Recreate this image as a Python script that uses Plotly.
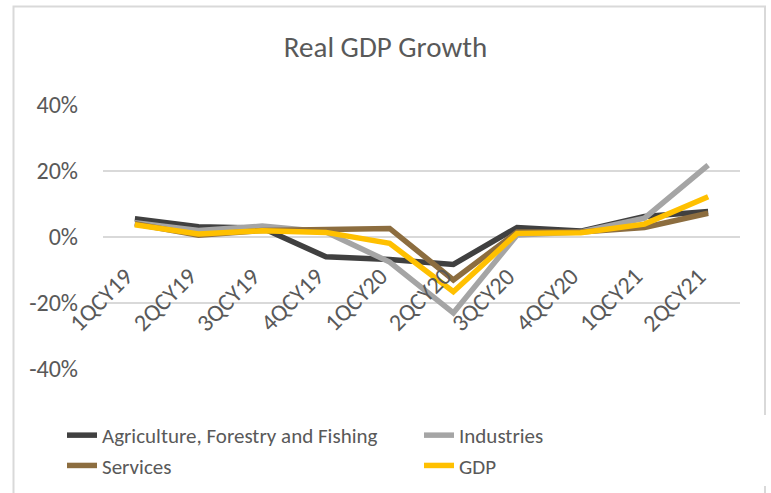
import plotly.graph_objects as go

categories = ["1QCY19", "2QCY19", "3QCY19", "4QCY19", "1QCY20",
              "2QCY20", "3QCY20", "4QCY20", "1QCY21", "2QCY21"]
agriculture = [5.5, 3.1, 2.7, -6.0, -6.8, -8.3, 2.9, 1.8, 6.2, 7.7]
industries = [4.3, 2.0, 3.3, 1.5, -7.6, -23.0, 0.6, 1.5, 5.7, 21.8]
services = [4.0, 0.5, 2.0, 2.5, 2.6, -13.0, 1.5, 1.5, 2.9, 7.2]
gdp = [3.7, 0.9, 1.9, 1.4, -1.9, -16.6, 1.1, 1.3, 3.9, 12.2]

series_names = ["Agriculture, Forestry and Fishing", "Industries", "Services", "GDP"]
series_values = [agriculture, industries, services, gdp]
series_colors = ["#404040", "#A5A5A5", "#8C6D3F", "#FFC000"]
y_ticks = [-40, -20, 0, 20, 40]
y_tick_labels = ["-40%", "-20%", "0%", "20%", "40%"]

FONT = "Carlito, 'Liberation Sans Narrow', 'Open Sans', sans-serif"
TXT = "#595959"

fig = go.Figure()
for name, vals, col in zip(series_names, series_values, series_colors):
    fig.add_trace(go.Scatter(x=categories, y=vals, mode="lines", name=name,
                             line=dict(color=col, width=5.5)))

W, H = 771, 493
L, R, T, B = 103, 31, 105, 124
pw, ph = W - L - R, H - T - B

def px_x(p):
    return (p - L) / pw

def px_y(p):
    return (H - B - p) / ph

for c in categories:
    fig.add_annotation(x=c, y=0, xref="x", yref="y", text=c, showarrow=False,
                       textangle=-45, xanchor="right", yanchor="top",
                       xshift=6, yshift=-22,
                       font=dict(family=FONT, size=24, color=TXT))

fig.add_shape(type="rect", xref="paper", yref="paper",
              x0=px_x(13.5), x1=px_x(765), y0=px_y(6.5), y1=px_y(530),
              line=dict(color="#D9D9D9", width=2), fillcolor="rgba(0,0,0,0)")

fig.update_layout(
    width=W, height=H,
    margin=dict(l=L, r=R, t=T, b=B, autoexpand=False),
    paper_bgcolor="white", plot_bgcolor="white",
    title=dict(text="Real GDP Growth", x=0.5, xanchor="center",
               y=1 - 47 / H, yanchor="middle",
               font=dict(family=FONT, size=29, color=TXT)),
    xaxis=dict(showticklabels=False, showgrid=False, zeroline=False,
               showline=False, ticks="", range=[-0.5, 9.5]),
    yaxis=dict(range=[-40, 40], tickvals=y_ticks, ticktext=y_tick_labels,
               showgrid=True, gridcolor="#D9D9D9", gridwidth=1.5,
               zeroline=False, showline=False, ticks="",
               tickfont=dict(family=FONT, size=24, color=TXT), ticklabelstandoff=24),
    legend=dict(orientation="h", x=px_x(62), xanchor="left",
                y=px_y(415), yanchor="top",
                entrywidth=312, entrywidthmode="pixels",
                font=dict(family=FONT, size=21, color=TXT),
                tracegroupgap=0),
    showlegend=True,
)

fig.write_html("out.html")
